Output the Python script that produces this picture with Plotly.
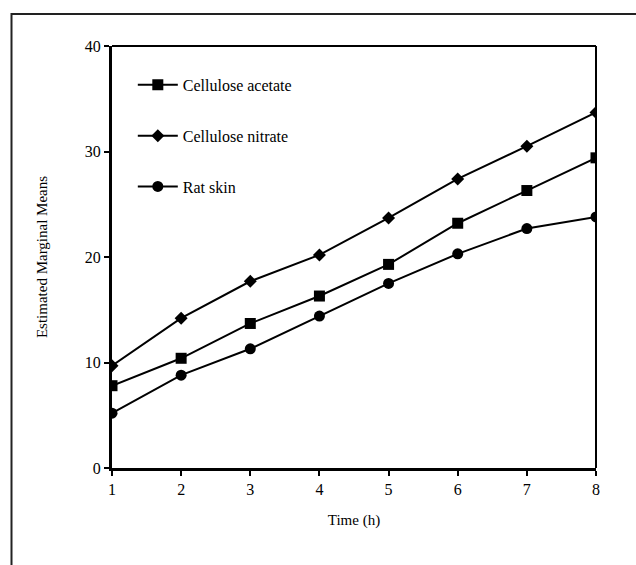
import plotly.graph_objects as go

hours = [1, 2, 3, 4, 5, 6, 7, 8]
cellulose_acetate = [7.8, 10.4, 13.7, 16.3, 19.3, 23.2, 26.3, 29.4]
cellulose_nitrate = [9.7, 14.2, 17.7, 20.2, 23.7, 27.4, 30.5, 33.7]
rat_skin = [5.2, 8.8, 11.3, 14.4, 17.5, 20.3, 22.7, 23.8]
series_names = ["Cellulose acetate", "Cellulose nitrate", "Rat skin"]
y_ticks = [0, 10, 20, 30, 40]

FONT = "Liberation Serif, Times New Roman, serif"
W, H = 636, 565
L, R, T, B = 112, 40, 46, 97
pw, ph = W - L - R, H - T - B

def px_to_paper_x(px):
    return (px - L) / pw

def px_to_paper_y(py):
    return (H - B - py) / ph

fig = go.Figure()
specs = [(cellulose_acetate, "square", 11), (cellulose_nitrate, "diamond", 10), (rat_skin, "circle", 11)]
for i, (vals, sym, sz) in enumerate(specs):
    fig.add_trace(go.Scatter(
        x=hours, y=vals, name=series_names[i], mode="lines+markers",
        line=dict(color="black", width=2),
        marker=dict(symbol=sym, size=sz, color="black"),
        legendgroup=f"g{i}",
    ))

fig.update_layout(
    width=W, height=H,
    margin=dict(l=L, r=R, t=T, b=B),
    paper_bgcolor="white", plot_bgcolor="white",
    font=dict(family=FONT, color="black", size=16),
    showlegend=True,
    legend=dict(
        x=0.043, y=0.948, xanchor="left", yanchor="top",
        bgcolor="rgba(0,0,0,0)", tracegroupgap=27,
        font=dict(family=FONT, size=16, color="black"),
        itemwidth=40,
    ),
    xaxis=dict(
        range=[1, 8], tickvals=hours, showgrid=False, zeroline=False,
        showline=True, linecolor="black", linewidth=3,
        ticks="outside", ticklen=5, tickwidth=2, tickcolor="black",
        tickfont=dict(family=FONT, size=16),
        title=dict(text="Time (h)", font=dict(family=FONT, size=15), standoff=18),
    ),
    yaxis=dict(
        range=[0, 40], tickvals=y_ticks, showgrid=False, zeroline=False,
        showline=True, linecolor="black", linewidth=3,
        ticks="outside", ticklen=5, tickwidth=2, tickcolor="black",
        tickfont=dict(family=FONT, size=16),
        title=dict(text="Estimated Marginal Means", font=dict(family=FONT, size=15), standoff=34),
    ),
)

# top and right plot frame lines (thinner)
fig.add_shape(type="line", xref="paper", yref="paper", x0=0, x1=1, y0=1, y1=1,
              line=dict(color="black", width=2))
fig.add_shape(type="line", xref="paper", yref="paper", x0=1, x1=1, y0=0, y1=1,
              line=dict(color="black", width=2))

# outer figure frame (left and top visible, right/bottom beyond the image)
fig.add_shape(type="rect", xref="paper", yref="paper",
              x0=px_to_paper_x(11.5), x1=px_to_paper_x(640),
              y0=px_to_paper_y(580), y1=px_to_paper_y(14),
              line=dict(color="#222222", width=2), layer="below")

fig.write_html("out.html")
